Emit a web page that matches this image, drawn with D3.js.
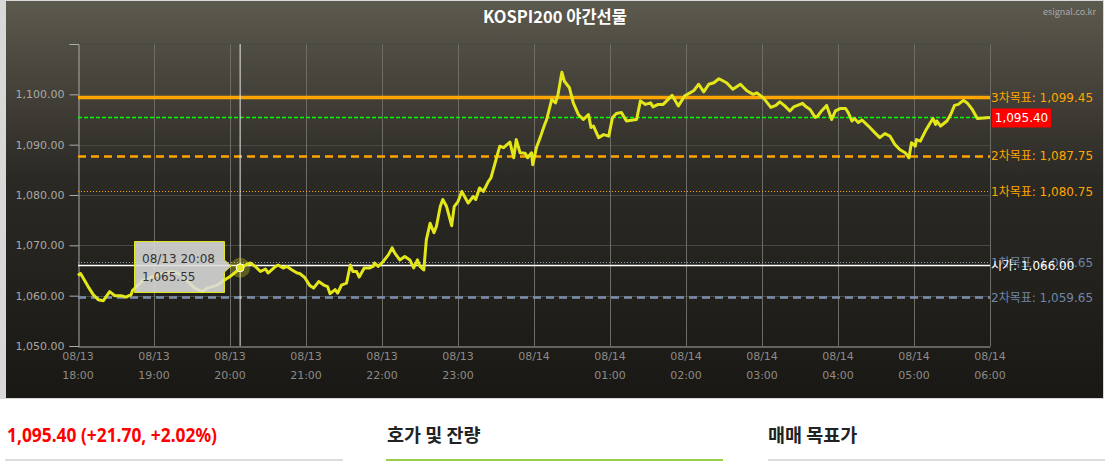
<!DOCTYPE html>
<html>
<head>
  <meta charset="UTF-8" />
  <title>KOSPI200 야간선물</title>
  <script src="https://d3js.org/d3.v7.min.js"></script>
  <style>
    body { margin: 0; background: #fff; }
    text { font-family: "Noto Sans CJK KR", "Noto Sans", sans-serif; }
  </style>
</head>
<body>
  <svg id="chart" width="1115" height="461"></svg>
  <script>
    // minutes since 08/13 18:00, and price
    const minutes = [0, 2, 8, 12, 16, 20, 25, 29, 34, 38, 42, 43, 51, 62, 75, 82, 86, 92, 98, 102,
      110, 114, 120, 125, 128, 136, 140, 144, 148, 150, 156, 158, 162, 165, 169, 173, 175, 179, 183, 186,
      190, 194, 197, 199, 203, 205, 208, 212, 215, 217, 220, 222, 226, 230, 233, 234, 237, 241, 245, 248,
      250, 254, 258, 262, 265, 268, 270, 273, 275, 278, 281, 283, 286, 288, 291, 295, 297, 300, 303, 308,
      312, 314, 317, 320, 324, 326, 333, 336, 341, 344, 346, 349, 353, 355, 358, 359, 362, 365, 368, 370,
      374, 377, 379, 382, 384, 388, 391, 395, 399, 403, 405, 407, 411, 415, 419, 422, 425, 429, 433, 438,
      441, 444, 448, 452, 454, 458, 462, 469, 474, 479, 486, 490, 494, 498, 502, 506, 512, 517, 523, 528,
      533, 536, 541, 543, 547, 551, 554, 558, 562, 565, 568, 572, 574, 578, 582, 584, 587, 591, 595, 598,
      602, 606, 608, 611, 613, 616, 619, 624, 629, 633, 637, 641, 645, 649, 653, 656, 658, 661, 662, 665,
      669, 673, 675, 677, 678, 681, 686, 689, 692, 695, 699, 702, 706, 710, 720];
    const prices = [1064.0, 1064.4, 1061.8, 1060.2, 1059.2, 1059.0, 1060.8, 1060.0, 1060.0, 1059.7, 1060.2, 1061.0, 1063.0, 1064.1, 1064.8, 1064.1, 1063.0, 1061.5, 1060.8, 1061.5,
      1062.1, 1062.8, 1063.8, 1064.8, 1065.55, 1066.5, 1065.8, 1064.8, 1065.3, 1064.5, 1065.8, 1066.1, 1065.5, 1065.8, 1065.1, 1064.5, 1064.4, 1063.6, 1062.0, 1061.5,
      1062.8, 1062.1, 1061.8, 1060.4, 1061.2, 1060.5, 1062.1, 1062.5, 1066.1, 1064.8, 1064.8, 1063.7, 1065.5, 1065.5, 1065.8, 1066.5, 1065.8, 1066.8, 1068.1, 1069.5,
      1068.5, 1067.1, 1067.8, 1067.1, 1065.5, 1067.1, 1065.8, 1065.1, 1071.1, 1074.4, 1072.5, 1073.8, 1077.7, 1079.1, 1077.7, 1073.9, 1077.7, 1078.7, 1080.7, 1078.4,
      1079.7, 1079.1, 1081.4, 1080.7, 1082.7, 1083.4, 1089.7, 1089.4, 1090.5, 1087.4, 1091.0, 1088.4, 1088.3, 1087.4, 1088.4, 1086.0, 1089.5, 1091.5, 1093.7, 1095.0,
      1099.0, 1098.3, 1100.0, 1104.4, 1102.6, 1101.3, 1098.3, 1096.0, 1095.0, 1096.0, 1093.4, 1093.7, 1091.4, 1092.0, 1091.7, 1095.4, 1096.2, 1096.4, 1094.7, 1094.9,
      1095.0, 1098.7, 1098.0, 1098.3, 1097.5, 1098.0, 1098.0, 1099.8, 1097.7, 1099.7, 1100.7, 1102.0, 1100.5, 1102.0, 1102.3, 1103.1, 1102.3, 1101.0, 1102.0, 1100.7,
      1100.0, 1100.3, 1099.3, 1098.7, 1097.4, 1097.8, 1098.5, 1097.7, 1096.7, 1097.5, 1097.8, 1098.2, 1097.7, 1097.0, 1095.4, 1095.7, 1096.7, 1097.8, 1095.0, 1096.7,
      1097.2, 1097.2, 1096.4, 1094.7, 1095.2, 1094.4, 1094.9, 1093.7, 1092.4, 1091.4, 1092.2, 1091.7, 1090.0, 1089.0, 1088.4, 1087.4, 1090.4, 1089.7, 1091.0, 1090.7,
      1092.7, 1094.4, 1095.2, 1094.0, 1094.7, 1093.7, 1094.7, 1096.0, 1097.8, 1098.0, 1098.8, 1098.3, 1097.0, 1095.2, 1095.4];

    const tickMinutes = [0, 60, 120, 180, 240, 300, 360, 420, 480, 540, 600, 660, 720];
    const tickDates = ["08/13", "08/13", "08/13", "08/13", "08/13", "08/13", "08/14", "08/14", "08/14", "08/14", "08/14", "08/14", "08/14"];
    const tickTimes = ["18:00", "19:00", "20:00", "21:00", "22:00", "23:00", "", "01:00", "02:00", "03:00", "04:00", "05:00", "06:00"];
    const yTicks = [1050, 1060, 1070, 1080, 1090, 1100, 1110];

    // target / reference lines
    const refNames = ["3차목표", "2차목표", "1차목표", "1차목표", "시가", "2차목표"];
    const refValues = [1099.45, 1087.75, 1080.75, 1066.65, 1066.00, 1059.65];
    const refKinds = ["up3", "up2", "up1", "dn1", "open", "dn2"];

    const lastPrice = 1095.40;
    const change = "+21.70", changePct = "+2.02%";
    const hoverMinute = 128, hoverLabel = "08/13 20:08", hoverPrice = 1065.55;

    const svg = d3.select("#chart");
    const x = d3.scaleLinear().domain([0, 720]).range([78, 990]);
    const y = d3.scaleLinear().domain([1050, 1110]).range([346, 44]);
    const fmt = d3.format(",.2f");
    const ry = v => Math.round(y(v)) + 0.5;
    const numFont = "'DejaVu Sans', 'Noto Sans CJK KR', sans-serif";

    // background panel
    const defs = svg.append("defs");
    const grad = defs.append("linearGradient").attr("id", "bg").attr("x1", 0).attr("y1", 0).attr("x2", 0).attr("y2", 1);
    grad.append("stop").attr("offset", "0%").attr("stop-color", "#5c594e");
    grad.append("stop").attr("offset", "45%").attr("stop-color", "#2b2924");
    grad.append("stop").attr("offset", "100%").attr("stop-color", "#1a1814");
    svg.append("rect").attr("x", 0).attr("y", 0).attr("width", 1104).attr("height", 399).attr("fill", "#d8d8d8");
    svg.append("rect").attr("x", 6).attr("y", 1).attr("width", 1097).attr("height", 397).attr("fill", "url(#bg)");

    svg.append("text").attr("x", 555).attr("y", 23).attr("text-anchor", "middle")
      .attr("fill", "#fff").attr("font-size", 16.5).attr("font-weight", "bold").text("KOSPI200 야간선물");
    svg.append("text").attr("x", 1096).attr("y", 15).attr("text-anchor", "end")
      .attr("fill", "#aaa").attr("font-size", 9).text("esignal.co.kr");

    // grid
    svg.append("g").selectAll("line").data(yTicks.slice(1)).join("line")
      .attr("x1", 78).attr("x2", 990).attr("y1", d => ry(d)).attr("y2", d => ry(d))
      .attr("stroke", "#4a4843").attr("stroke-width", 1);
    svg.append("g").selectAll("line").data(tickMinutes.slice(1)).join("line")
      .attr("x1", d => x(d) + 0.5).attr("x2", d => x(d) + 0.5).attr("y1", 44).attr("y2", 346)
      .attr("stroke", "#6e6c66").attr("stroke-width", 1);

    // y axis
    const yAxis = svg.append("g").attr("transform", "translate(78.5,0)")
      .call(d3.axisLeft(y).tickValues(yTicks).tickSize(9).tickPadding(5)
        .tickFormat(d => d === 1110 ? "" : fmt(d)));
    yAxis.select(".domain").attr("stroke", "#aaa");
    yAxis.selectAll(".tick line").attr("stroke", "#aaa");
    yAxis.selectAll("text").attr("fill", "#a9a9a4").attr("font-size", 11)
      .style("font-family", numFont);

    // x axis
    const xAxis = svg.append("g").attr("transform", "translate(0,346.5)")
      .call(d3.axisBottom(x).tickValues(tickMinutes).tickSize(0).tickFormat(""));
    xAxis.select(".domain").attr("stroke", "#aaa");
    const xl = svg.append("g").selectAll("text").data(tickMinutes).join("text")
      .attr("x", d => x(d)).attr("text-anchor", "middle")
      .attr("fill", "#8c8a86").attr("font-size", 11).style("font-family", numFont);
    xl.append("tspan").attr("x", d => x(d)).attr("y", 360).text((d, i) => tickDates[i]);
    xl.append("tspan").attr("x", d => x(d)).attr("y", 379).text((d, i) => tickTimes[i]);

    // reference lines
    const refStyle = {
      up3: { stroke: "#ffa500", width: 3.5, dash: null, text: "#ffa500" },
      up2: { stroke: "#ffa500", width: 2.5, dash: "8,5", text: "#ffa500" },
      up1: { stroke: "#ffa500", width: 1, dash: "1,2", text: "#ffa500" },
      dn1: { stroke: "#8fa3c0", width: 1, dash: "1,2", text: "#6f86a6" },
      open: { stroke: "#ffffff", width: 1.5, dash: null, text: "#ffffff" },
      dn2: { stroke: "#7b90ad", width: 2.5, dash: "8,5", text: "#6f86a6" }
    };
    refValues.forEach((v, i) => {
      const s = refStyle[refKinds[i]];
      svg.append("line").attr("x1", 78).attr("x2", 990).attr("y1", ry(v)).attr("y2", ry(v))
        .attr("stroke", s.stroke).attr("stroke-width", s.width).attr("stroke-dasharray", s.dash);
    });
    // current price line
    svg.append("line").attr("x1", 78).attr("x2", 990).attr("y1", ry(lastPrice)).attr("y2", ry(lastPrice))
      .attr("stroke", "#00ff00").attr("stroke-width", 1.3).attr("stroke-dasharray", "4,2");

    // price series
    const series = minutes.map((m, i) => [m, prices[i]]);
    svg.append("path").datum(series)
      .attr("d", d3.line().x(d => x(d[0])).y(d => y(d[1])))
      .attr("fill", "none").attr("stroke", "#e3e619").attr("stroke-width", 3)
      .attr("stroke-linejoin", "round");

    // labels on the right
    refValues.forEach((v, i) => {
      const s = refStyle[refKinds[i]];
      svg.append("text").attr("x", 991).attr("y", y(v) + 4.5)
        .attr("fill", s.text).attr("font-size", 12).style("font-family", numFont)
        .text(refNames[i] + ": " + fmt(v));
    });
    svg.append("rect").attr("x", 992).attr("y", y(lastPrice) - 9).attr("width", 59).attr("height", 19).attr("fill", "#ff0000");
    svg.append("text").attr("x", 1021.5).attr("y", y(lastPrice) + 5).attr("text-anchor", "middle")
      .attr("fill", "#fff").attr("font-size", 12).style("font-family", numFont).text(fmt(lastPrice));

    // crosshair + tooltip
    const hx = x(hoverMinute), hy = y(hoverPrice);
    svg.append("line").attr("x1", hx).attr("x2", hx).attr("y1", 44).attr("y2", 346)
      .attr("stroke", "#e8e8e8").attr("stroke-width", 1);
    svg.append("circle").attr("cx", hx).attr("cy", hy).attr("r", 10).attr("fill", "#e3e619").attr("opacity", 0.3);
    svg.append("circle").attr("cx", hx).attr("cy", hy).attr("r", 4).attr("fill", "#e3e619")
      .attr("stroke", "#fff").attr("stroke-width", 1);
    const tip = svg.append("g").attr("transform", "translate(134,241)");
    tip.append("path").attr("d", "M0.5,0.5 H90.5 V19 L97,25 L90.5,31 V51.5 H0.5 Z")
      .attr("fill", "#dcdcdc").attr("fill-opacity", 0.88).attr("stroke", "#e3e619").attr("stroke-width", 1);
    tip.append("text").attr("x", 8).attr("y", 22).attr("fill", "#333").attr("font-size", 12)
      .style("font-family", numFont).text(hoverLabel);
    tip.append("text").attr("x", 8).attr("y", 40).attr("fill", "#333").attr("font-size", 12)
      .style("font-family", numFont).text(fmt(hoverPrice));

    // lower summary bar
    svg.append("text").attr("x", 7).attr("y", 442).attr("fill", "#ff0000").attr("font-size", 19)
      .attr("font-weight", "bold").style("font-family", "'Liberation Sans Narrow', 'Noto Sans', sans-serif")
      .attr("textLength", 210).attr("lengthAdjust", "spacingAndGlyphs")
      .text(fmt(lastPrice) + " (" + change + ", " + changePct + ")");
    svg.append("line").attr("x1", 5).attr("x2", 343).attr("y1", 460).attr("y2", 460).attr("stroke", "#ddd").attr("stroke-width", 2);
    svg.append("text").attr("x", 387).attr("y", 442).attr("fill", "#222").attr("font-size", 18.5)
      .attr("font-weight", "bold").text("호가 및 잔량");
    svg.append("line").attr("x1", 386).attr("x2", 723).attr("y1", 460).attr("y2", 460).attr("stroke", "#9acd4a").attr("stroke-width", 2);
    svg.append("text").attr("x", 768).attr("y", 442).attr("fill", "#222").attr("font-size", 18.5)
      .attr("font-weight", "bold").text("매매 목표가");
    svg.append("line").attr("x1", 768).attr("x2", 1105).attr("y1", 460).attr("y2", 460).attr("stroke", "#ddd").attr("stroke-width", 2);
  </script>
</body>
</html>
